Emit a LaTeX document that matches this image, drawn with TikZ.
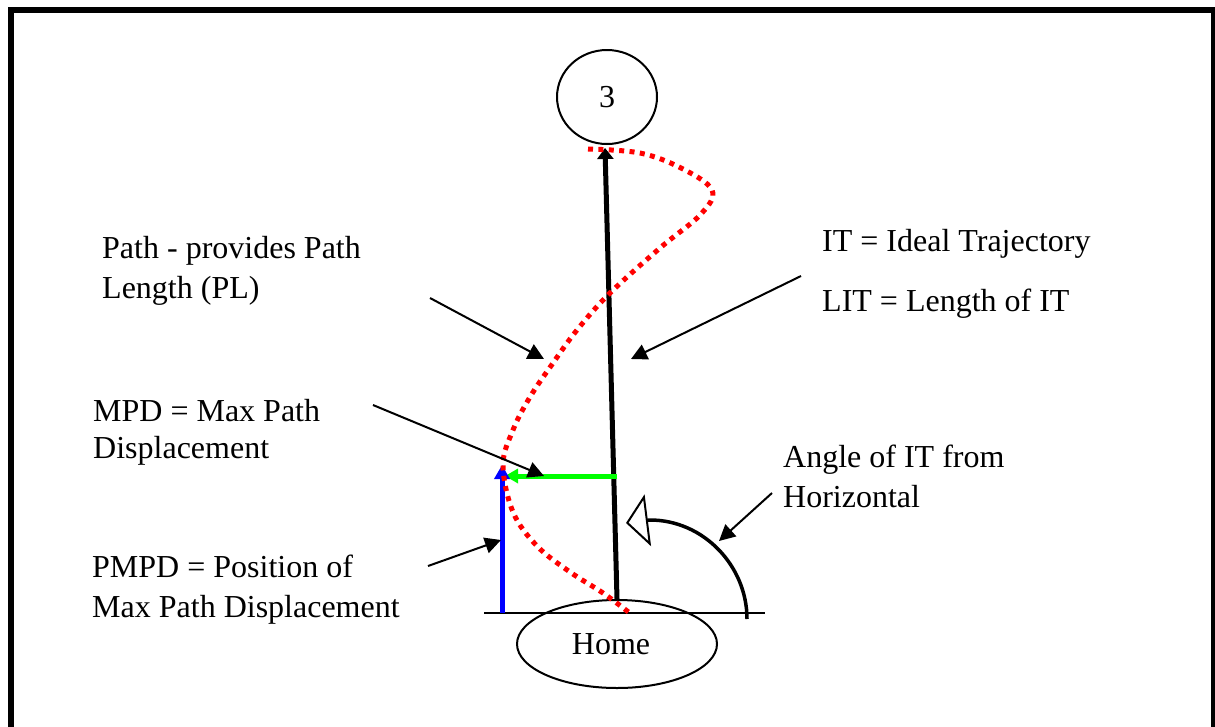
\documentclass[tikz,border=0pt]{standalone}
\usepackage{fontspec}
\setmainfont{Liberation Serif}
\usetikzlibrary{arrows.meta,shapes.geometric}
\begin{document}
\begin{tikzpicture}[x=1pt,y=-1pt,
  txt/.style={anchor=base west, inner sep=0pt, align=left,
    font=\fontsize{32}{40}\selectfont},
  place/.style={draw, line width=2pt, ellipse, inner sep=0pt,
    font=\fontsize{32}{40}\selectfont},
  pointer/.style={line width=2pt, -{Triangle[length=16pt,width=16pt]}},
  path dots/.style={red, line width=5pt, dash pattern=on 5pt off 5.4pt}]
\useasboundingbox (0,0) rectangle (1215,726);
% frame
\draw[line width=6pt] (11,10) rectangle (1214,745);

% goal and home
\node[place, minimum width=100pt, minimum height=94pt] (goal) at (607,97) {3};
\node[place, minimum width=200pt, minimum height=88pt] (home) at (617,644) {\hspace*{-12pt}Home};

% horizontal reference line
\coordinate (hl) at (484,613);
\coordinate (hr) at (765,613);
\draw[line width=2pt] (hl) -- (hr);

% ideal trajectory
\coordinate (itTop) at (605,148);
\draw[line width=5pt, -{Triangle[length=11pt,width=16pt]}] (home.north) -- (itTop);

% max path displacement and its position
\coordinate (mpdStart) at (617,476);
\coordinate (mpdEnd) at (505,476);
\draw[green, line width=5pt, -{Triangle[length=13pt,width=14pt]}] (mpdStart) -- (mpdEnd);
\coordinate (pmpdBase) at (502,613);
\coordinate (pmpdTop) at (502,465);
\draw[blue, line width=5pt, -{Triangle[length=14pt,width=15pt]}] (pmpdBase) -- (pmpdTop);

% angle of the trajectory
\coordinate (arcStart) at (747,619);
\coordinate (arcTop) at (650,520);
\coordinate (arcTip) at (626,523);
\draw[line width=3.5pt, -{Triangle[open,length=22pt,width=52pt,line width=2pt]}]
  (arcStart) .. controls (747,566) and (703.6,520) .. (arcTop) -- (arcTip);

% actual path
\draw[path dots] plot[smooth, tension=0.6] coordinates {
  (588,149) (640,153) (681,168) (712,190) (701,214) (660,248)
  (610,293) (577,330) (553,363) (530,397) (513,430) (503,465)
  (513,512) (537,546) (570,572) (603,593) (631,614)};

% labels (anchored at the baseline of their last line)
\node[txt] (pathLbl) at (102,298) {Path - provides Path\\Length (PL)};
\node[txt] (itLbl) at (822,311) {IT = Ideal Trajectory\\[20pt]LIT = Length of IT};
\node[txt] (mpdLbl) at (93,458) {MPD = Max Path\\[-3pt]Displacement};
\node[txt] (pmpdLbl) at (92,617) {PMPD = Position of\\Max Path Displacement};
\node[txt] (angLbl) at (783,507) {Angle of IT from\\Horizontal};

% pointers
\coordinate (p1s) at (430,298); \coordinate (p1e) at (544,359);
\coordinate (p2s) at (801,276); \coordinate (p2e) at (631,359);
\coordinate (p3s) at (373,405); \coordinate (p3e) at (544,476);
\coordinate (p4s) at (428,566); \coordinate (p4e) at (501,540);
\coordinate (p5s) at (772,493); \coordinate (p5e) at (719,541);
\draw[pointer] (p1s) -- (p1e);
\draw[pointer] (p2s) -- (p2e);
\draw[pointer] (p3s) -- (p3e);
\draw[pointer] (p4s) -- (p4e);
\draw[pointer] (p5s) -- (p5e);
\end{tikzpicture}
\end{document}
